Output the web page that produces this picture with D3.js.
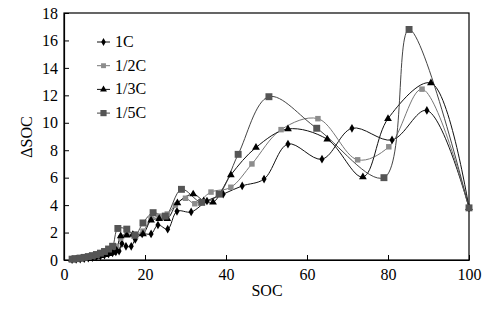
<!DOCTYPE html>
<html>
<head>
<meta charset="utf-8">
<script src="https://cdn.jsdelivr.net/npm/d3@7"></script>
<style>
body { margin: 0; background: #fff; }
</style>
</head>
<body>
<div id="chart"></div>
<script>
// data: [SOC, dSOC]
var soc1C = [[2,0.02],[3,0.04],[4,0.07],[5,0.1],[6,0.14],[7,0.18],[8,0.23],[9,0.29],[10,0.36],[11,0.44],[12,0.52],[12.8,0.6],[13.6,0.65],[14.3,1.2],[15.3,1.0],[16.6,1.0],[17.6,1.5],[19.3,1.9],[21.5,1.9],[23.2,2.55],[25.6,2.25],[27.9,3.55],[31.4,3.5],[35.3,4.3],[39.3,4.8],[44,5.4],[49.4,5.9],[55.3,8.45],[63.7,7.35],[71.1,9.6],[81,8.75],[89.6,10.9],[100,3.8]];
var soc12C = [[2,0.05],[3,0.08],[4,0.12],[5,0.17],[6,0.22],[7,0.28],[8,0.35],[9,0.45],[10,0.55],[11,0.7],[12,0.85],[13,1.0],[14,1.6],[15.5,2.0],[17.5,1.9],[19.5,2.1],[21.5,3.0],[23.5,3.2],[25.5,3.35],[27.5,4.0],[30,4.5],[32.3,4.1],[36.3,4.95],[41.2,5.3],[46.4,7.0],[53.6,9.5],[62.7,10.3],[72.5,7.3],[80.2,8.25],[88.4,12.45],[100,3.8]];
var soc13C = [[2,0.03],[3,0.05],[4,0.08],[5,0.12],[6,0.16],[7,0.2],[8,0.25],[9,0.31],[10,0.38],[11,0.46],[12,0.55],[13,0.7],[14,1.75],[15.5,1.8],[17,1.85],[19.5,1.9],[21.5,2.9],[23.5,3.0],[25.5,3.0],[28,4.15],[31.9,4.8],[34.5,4.3],[36.8,4.2],[41.2,6.2],[47.4,8.2],[55.3,9.55],[65,8.8],[73.8,6.05],[80,10.3],[90.6,12.9],[100,3.8]];
var soc15C = [[2,0.06],[3,0.1],[4,0.14],[5,0.19],[6,0.25],[7,0.32],[8,0.4],[9,0.5],[10,0.62],[11,0.8],[12,1.0],[13.3,2.3],[15.5,2.25],[17.5,1.8],[19.5,2.7],[22,3.45],[25,3.2],[29,5.15],[34,4.2],[38.3,4.8],[43,7.7],[50.6,11.9],[62.4,9.6],[79,6.0],[85.2,16.8],[100,3.8]];

var xTicks = [0, 20, 40, 60, 80, 100];
var yTicks = [0, 2, 4, 6, 8, 10, 12, 14, 16, 18];

var series = [
	{name: "1C", data: soc1C, color: "#000", line: "#111", symbol: d3.symbolDiamond, size: 22},
	{name: "1/2C", data: soc12C, color: "#8c8c8c", line: "#777", symbol: d3.symbolSquare, size: 30},
	{name: "1/3C", data: soc13C, color: "#000", line: "#111", symbol: d3.symbolTriangle, size: 26},
	{name: "1/5C", data: soc15C, color: "#555", line: "#444", symbol: d3.symbolSquare, size: 48}
];

var serif = "'Liberation Serif', 'Times New Roman', 'DejaVu Serif', serif";

drawChart();

function drawChart()
{
	var width = 492, height = 309;
	var mLeft = 64, mRight = 469, mTop = 13, mBottom = 260;

	var svg = d3.select("#chart").append("svg")
		.attr("width", width)
		.attr("height", height);

	var x = d3.scaleLinear().domain([0, 100]).range([mLeft, mRight]);
	var y = d3.scaleLinear().domain([0, 18]).range([mBottom, mTop]);

	// frame
	svg.append("rect")
		.attr("x", mLeft).attr("y", mTop)
		.attr("width", mRight - mLeft).attr("height", mBottom - mTop)
		.attr("fill", "none").attr("stroke", "#000").attr("stroke-width", 1.2);

	var xAxis = svg.append("g")
		.attr("transform", `translate(0, ${mBottom})`)
		.call(d3.axisBottom(x).tickValues(xTicks).tickSizeInner(-5).tickSizeOuter(0).tickPadding(9));
	var yAxis = svg.append("g")
		.attr("transform", `translate(${mLeft}, 0)`)
		.call(d3.axisLeft(y).tickValues(yTicks).tickSizeInner(-5).tickSizeOuter(0).tickPadding(6));

	[xAxis, yAxis].forEach(function(g) {
		g.attr("font-family", null);
		g.select(".domain").attr("stroke-width", 1.2);
		g.selectAll("text").attr("fill", "#000")
			.style("font-family", serif)
			.style("font-size", "16px");
	});

	svg.append("text")
		.attr("x", 267).attr("y", 296)
		.attr("text-anchor", "middle")
		.style("font-family", serif)
		.style("font-size", "16px")
		.text("SOC");

	svg.append("text")
		.attr("transform", "translate(32, 137) rotate(-90)")
		.attr("text-anchor", "middle")
		.style("font-family", serif)
		.style("font-size", "16px")
		.text("ΔSOC");

	var line = d3.line()
		.x(function(d) { return x(d[0]); })
		.y(function(d) { return y(d[1]); })
		.curve(d3.curveCatmullRom.alpha(0.5));

	series.forEach(function(s) {
		svg.append("path")
			.datum(s.data)
			.attr("d", line)
			.attr("fill", "none")
			.attr("stroke", s.line)
			.attr("stroke-width", 1);
	});

	series.forEach(function(s) {
		svg.append("g").selectAll("path")
			.data(s.data)
			.enter().append("path")
			.attr("transform", function(d) { return `translate(${x(d[0])}, ${y(d[1])})`; })
			.attr("d", d3.symbol().type(s.symbol).size(s.size))
			.attr("fill", s.color);
	});

	// legend
	var legend = svg.append("g");
	series.forEach(function(s, i) {
		var ly = 42 + i * 23.7;
		legend.append("line")
			.attr("x1", 97).attr("x2", 110)
			.attr("y1", ly).attr("y2", ly)
			.attr("stroke", s.line).attr("stroke-width", 1);
		legend.append("path")
			.attr("transform", `translate(103.5, ${ly})`)
			.attr("d", d3.symbol().type(s.symbol).size(s.size * 0.8))
			.attr("fill", s.color);
		legend.append("text")
			.attr("x", 115).attr("y", ly + 5)
			.style("font-family", serif)
			.style("font-size", "16px")
			.text(s.name);
	});
}
</script>
</body>
</html>
